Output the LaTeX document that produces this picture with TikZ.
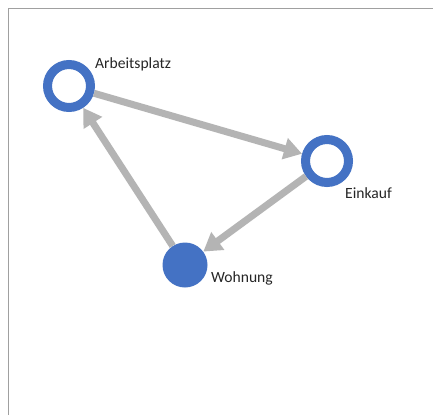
\documentclass[tikz,border=0pt]{standalone}
\usepackage{fontspec}
\setmainfont{Carlito}
\usetikzlibrary{arrows.meta}
\definecolor{nodeblue}{HTML}{4472C4}
\definecolor{arrowgray}{HTML}{B4B4B4}
\definecolor{framegray}{HTML}{A0A0A0}
\begin{document}
\begin{tikzpicture}[x=1pt,y=-1pt,
  ringnode/.style={circle, draw=nodeblue, line width=9pt, fill=white, minimum size=43pt, inner sep=0pt},
  fillnode/.style={circle, fill=nodeblue, minimum size=45pt, inner sep=0pt},
  lbl/.style={font=\fontsize{15.6}{18}\selectfont, text=black!85, inner sep=0pt, anchor=west},
  conn/.style={draw=arrowgray, line width=7pt, -{Triangle[length=18pt,width=21pt]}}]
\useasboundingbox (0,0) rectangle (433,415);
\fill[white] (0,0) rectangle (433,415);
\draw[framegray, line width=1.6pt] (8.5,415) -- (8.5,8.5) -- (433,8.5);
\node[ringnode] (arb) at (69,86) {};
\node[ringnode] (ein) at (327,161) {};
\node[fillnode] (woh) at (185,265) {};
\node[lbl] (larb) at (95,64) {Arbeitsplatz};
\node[lbl] (lein) at (345,193) {Einkauf};
\node[lbl] (lwoh) at (211,278) {Wohnung};
\draw[conn] (arb) -- (ein);
\draw[conn] (ein) -- (woh);
\draw[conn] (woh) -- (arb);
\end{tikzpicture}
\end{document}
